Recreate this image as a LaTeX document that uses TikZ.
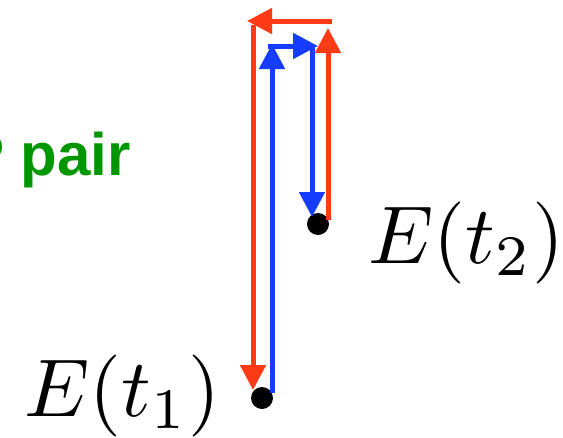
\documentclass[tikz,border=0pt]{standalone}
\usepackage{fontspec}
\newfontfamily\labelfont{Liberation Sans}
\usetikzlibrary{arrows.meta}
\definecolor{pathred}{RGB}{255,58,22}
\definecolor{pathblue}{RGB}{22,60,255}
\definecolor{pairgreen}{RGB}{0,150,0}
\tikzset{
  leg/.style={line width=5pt, -{Triangle[length=25pt,width=25pt]}},
  dot/.style={circle, fill=black, minimum size=22pt, inner sep=0pt},
  timelabel/.style={anchor=base west, inner sep=0pt, scale=8.2},
}
\begin{document}
\begin{tikzpicture}[x=1pt,y=-1pt]
\useasboundingbox (0,0) rectangle (563,437);
\clip (0,0) rectangle (563,437);
% the two events
\node[dot] (t1) at (262,398) {};
\node[dot] (t2) at (318,224) {};
\node[timelabel] (e1) at (23,416) {$E(t_1)$};
\node[timelabel] (e2) at (367,263) {$E(t_2)$};
\node[anchor=base east, inner sep=0pt, text=pairgreen, font=\labelfont\bfseries\fontsize{60}{72}\selectfont] (pair) at (131,175) {P pair};
% corners of the paths
\coordinate (b0) at (272,393);
\coordinate (b1) at (272,44);
\coordinate (b2) at (268,46);
\coordinate (b3) at (318,46);
\coordinate (b4) at (312,48);
\coordinate (b5) at (312,217);
\coordinate (r0) at (328,220);
\coordinate (r1) at (328,28);
\coordinate (r2) at (332,21);
\coordinate (r3) at (247,21);
\coordinate (r4) at (253,25);
\coordinate (r5) at (253,390);
% blue path
\draw[leg, pathblue] (b0) -- (b1);
\draw[leg, pathblue] (b2) -- (b3);
\draw[leg, pathblue] (b4) -- (b5);
% red path
\draw[leg, pathred] (r0) -- (r1);
\draw[leg, pathred] (r2) -- (r3);
\draw[leg, pathred] (r4) -- (r5);
\end{tikzpicture}
\end{document}
